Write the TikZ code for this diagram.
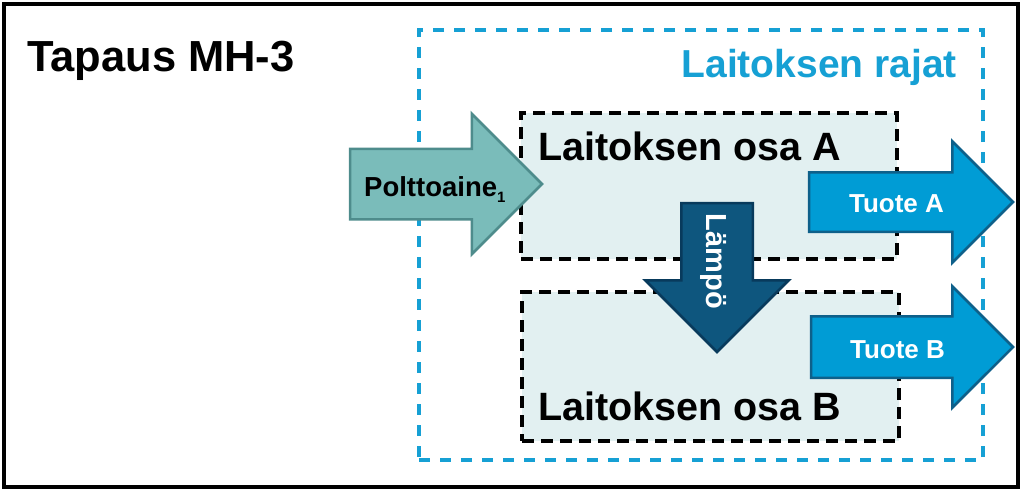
\documentclass[tikz,border=0pt]{standalone}
\usepackage{fontspec}
\setmainfont{Liberation Sans}
\usepackage{tikz}
\usetikzlibrary{shapes.arrows, positioning}
\definecolor{rajatcyan}{RGB}{22, 160, 212}
\definecolor{osafill}{RGB}{226, 240, 241}
\definecolor{fuelteal}{RGB}{122, 188, 186}
\definecolor{fuelline}{RGB}{78, 140, 140}
\definecolor{heatblue}{RGB}{14, 86, 126}
\definecolor{heatline}{RGB}{8, 58, 92}
\definecolor{prodblue}{RGB}{0, 156, 213}
\definecolor{prodline}{RGB}{14, 96, 138}

\begin{document}
\begin{tikzpicture}[x=1pt, y=-1pt,
  rajat/.style={rectangle, draw=rajatcyan, line width=3.5pt,
    dash pattern=on 11pt off 10pt, anchor=north west, inner sep=0pt, outer sep=0pt},
  osa/.style={rectangle, draw=black, fill=osafill, line width=3.5pt,
    dash pattern=on 12pt off 7pt, anchor=north west, inner sep=0pt, outer sep=0pt},
  blockarrow/.style={single arrow, single arrow tip angle=90, line width=2.5pt,
    inner xsep=0pt, outer sep=0pt, anchor=tip},
  bigtxt/.style={font=\fontsize{39.5}{44}\selectfont\bfseries, inner sep=0pt, anchor=base west},
  arrowtxt/.style={font=\fontsize{26}{30}\selectfont\bfseries, inner sep=0pt}
]
  \useasboundingbox (0,0) rectangle (1023,491);
  \node[draw, line width=4pt, minimum width=1014pt, minimum height=483pt,
    anchor=north west, inner sep=0pt, outer sep=0pt] (frame) at (4,4) {};

  % rajat ja laitoksen osat
  \node[rajat, minimum width=564pt, minimum height=430pt] (rajat) at (419,30) {};
  \node[osa, minimum width=376pt, minimum height=146pt] (osaA) at (521,113) {};
  \node[osa, minimum width=377pt, minimum height=149pt] (osaB) at (522,292) {};

  % nuolet
  \node[blockarrow, fill=fuelteal, draw=fuelline, minimum height=192pt,
    inner ysep=34pt, single arrow head extend=35pt] (fuel) at (542,184) {};
  \node[blockarrow, fill=heatblue, draw=heatline, rotate=-90, minimum height=149pt,
    inner ysep=34.5pt, single arrow head extend=36pt] (heat) at (717,352) {};
  \node[blockarrow, fill=prodblue, draw=prodline, minimum height=204pt,
    inner ysep=28.5pt, single arrow head extend=31pt] (prodA) at (1013,202) {};
  \node[blockarrow, fill=prodblue, draw=prodline, minimum height=202pt,
    inner ysep=29.5pt, single arrow head extend=30pt] (prodB) at (1013,347) {};

  % tekstit
  \node[bigtxt, font=\fontsize{43.5}{48}\selectfont\bfseries] (title) at (27,71) {Tapaus MH-3};
  \node[bigtxt, font=\fontsize{39}{44}\selectfont\bfseries, text=rajatcyan,
    anchor=base east] (rajatlbl) at (957,77) {Laitoksen rajat};
  \node[bigtxt] (osaAlbl) at (538,160) {Laitoksen osa A};
  \node[bigtxt] (osaBlbl) at (538,420) {Laitoksen osa B};
  \node[arrowtxt, anchor=base west, font=\fontsize{27.5}{30}\selectfont\bfseries]
    (fuellbl) at (364,196) {Polttoaine\raisebox{-6pt}{\fontsize{15}{16}\selectfont 1}};
  \node[arrowtxt, text=white, rotate=-90, anchor=base,
    font=\fontsize{29}{32}\selectfont\bfseries] (heatlbl) at (706,261.5) {Lämpö};
  \node[arrowtxt, text=white, anchor=base] (prodAlbl) at (896.5,212) {Tuote A};
  \node[arrowtxt, text=white, anchor=base] (prodBlbl) at (897.5,358) {Tuote B};
\end{tikzpicture}
\end{document}
